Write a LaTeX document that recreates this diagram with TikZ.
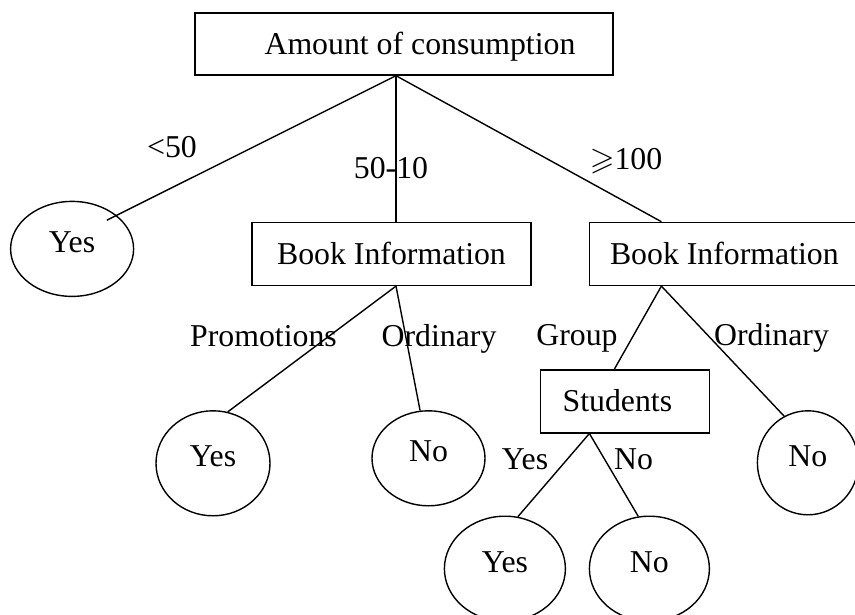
\documentclass[tikz,border=0pt]{standalone}
\usepackage{amssymb}
\usepackage{fontspec}
\setmainfont{Liberation Serif}
\usepackage{tikz}
\usetikzlibrary{shapes.geometric, positioning}
\tikzstyle{rect} = [rectangle, draw=black, line width=1.4pt, inner sep=0pt, text height=21pt, text depth=0pt, minimum height=63pt]
\tikzstyle{leaf} = [ellipse, draw=black, line width=1.4pt, inner sep=0pt, text height=21pt, text depth=14pt]
\tikzstyle{cond} = [inner sep=0pt, anchor=base]
\tikzstyle{branch} = [line width=1.4pt]
\newcommand{\treefont}{\fontsize{31.8pt}{38pt}\selectfont}

\begin{document}
\begin{tikzpicture}[x=1pt, y=-1pt, font=\treefont]
  \useasboundingbox (0,0) rectangle (855,615);
  \clip (0,0) rectangle (855,615);
  \node (consumption) [rect, minimum width=418pt, minimum height=62pt] at (404,44) {\hspace*{32pt}Amount of consumption};
  \node (info1) [rect, minimum width=279pt, below=146pt of consumption, xshift=-12.5pt] {Book Information};
  \node (info2) [rect, minimum width=270pt, right=57pt of info1] {Book Information};
  \node (yes1) [leaf, minimum width=123pt, minimum height=95pt, left=117pt of info1, yshift=5pt] {Yes};
  \node (yesA) [leaf, minimum width=114pt, minimum height=105pt, below=124pt of info1, xshift=-178.5pt] {Yes};
  \node (noA) [leaf, minimum width=113pt, minimum height=95pt, below=124pt of info1, xshift=37pt] {No};
  \node (students) [rect, minimum width=169pt, below=83pt of info2, xshift=-99.5pt] {Students\hspace*{15pt}};
  \node (noB) [leaf, minimum width=101pt, minimum height=104pt, below=124pt of info2, xshift=83.5pt] {No};
  \node (yesB) [leaf, minimum width=121pt, minimum height=105pt, below=82pt of students, xshift=-120pt] {Yes};
  \node (noC) [leaf, minimum width=120pt, minimum height=105pt, below=82pt of students, xshift=24.5pt] {No};

  \node (lt50) [cond] at (172,158) {<50};
  \node (mid) [cond] at (391,179) {50-10};
  \node (ge100) [cond] at (626,170) {$\geqslant$100};
  \node (promo) [cond] at (263.5,346) {Promotions};
  \node (ord1) [cond] at (439,346) {Ordinary};
  \node (group) [cond] at (577,345) {Group};
  \node (ord2) [cond] at (771.5,345) {Ordinary};
  \node (syes) [cond] at (525,469) {Yes};
  \node (sno) [cond] at (633.5,469) {No};

  \draw [branch, shorten >=-11pt] ([xshift=-8pt]consumption.south) -- (yes1.37);
  \draw [branch] ([xshift=-8pt]consumption.south) -- ([xshift=4.5pt]info1.north);
  \draw [branch] ([xshift=-8pt]consumption.south) -- ([xshift=-63pt]info2.north);
  \draw [branch] ([xshift=4.5pt]info1.south) -- (yesA.74);
  \draw [branch] ([xshift=4.5pt]info1.south) -- (noA.100);
  \draw [branch] ([xshift=-63pt]info2.south) -- ([xshift=-10.5pt]students.north);
  \draw [branch] ([xshift=-63pt]info2.south) -- (noB.117);
  \draw [branch] ([xshift=-35.5pt]students.south) -- (yesB.76);
  \draw [branch] ([xshift=-35.5pt]students.south) -- (noC.102);

\end{tikzpicture}
\end{document}
